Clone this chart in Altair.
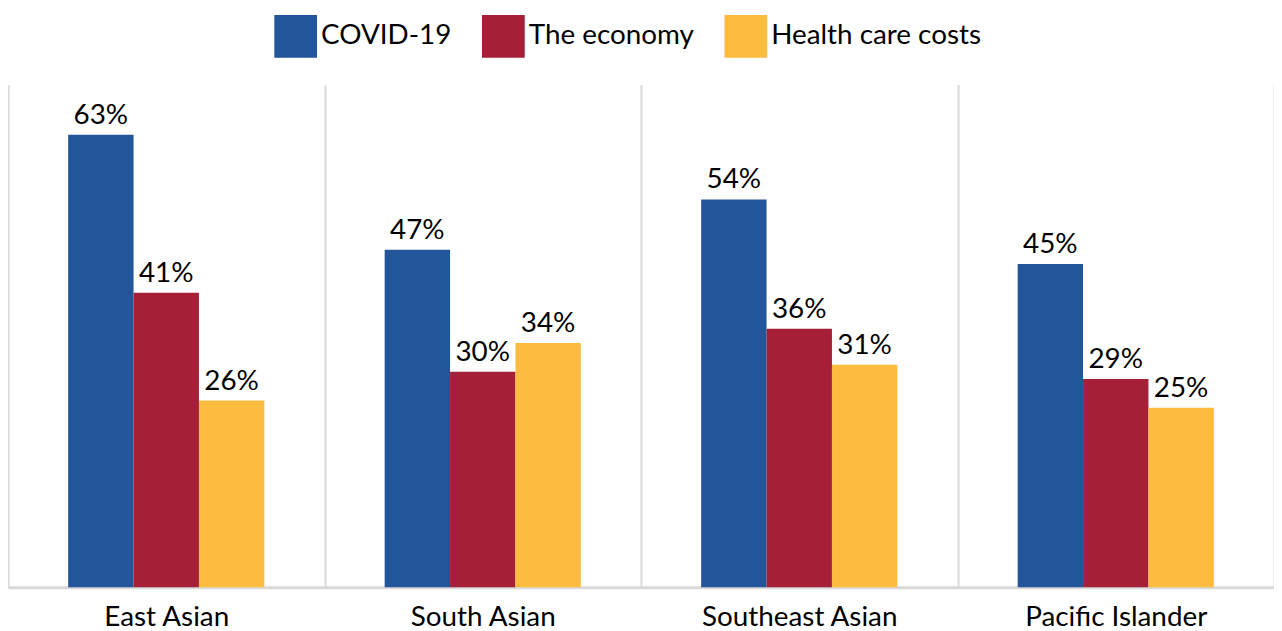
import altair as alt
import pandas as pd

groups = ["East Asian", "South Asian", "Southeast Asian", "Pacific Islander"]
series = ["COVID-19", "The economy", "Health care costs"]
covid = [63, 47, 54, 45]
economy = [41, 30, 36, 29]
health = [26, 34, 31, 25]
colors = ["#22559A", "#A51F36", "#FDBB40"]

rows = []
for s, vals in zip(series, [covid, economy, health]):
    for g, v in zip(groups, vals):
        rows.append({"group": g, "series": s, "value": v / 100, "label": f"{v}%"})
df = pd.DataFrame(rows)

FONT = "Lato"
FS = 28

x = alt.X(
    "group:N",
    sort=groups,
    scale=alt.Scale(paddingInner=0, paddingOuter=0),
    axis=alt.Axis(
        title=None, labelAngle=0, labelFontSize=FS, labelColor="#000000",
        labelFont=FONT, domainColor="#d9d9d9", domainWidth=3, ticks=False,
        grid=True, gridColor="#d9d9d9", gridWidth=2, tickBand="extent",
        labelPadding=16, labelLimit=0,
    ),
)
xoff = alt.XOffset("series:N", sort=series,
                   scale=alt.Scale(paddingOuter=0.92, paddingInner=0))
y = alt.Y("value:Q", scale=alt.Scale(domain=[0, 0.70]), axis=None)

color = alt.Color(
    "series:N", sort=series,
    scale=alt.Scale(domain=series, range=colors),
    legend=alt.Legend(
        title=None, orient="none", direction="horizontal",
        legendX=268, legendY=-70,
        symbolType="square", symbolSize=1849, symbolStrokeWidth=0,
        symbolOpacity=1, labelFontSize=FS, labelFont=FONT, labelLimit=0,
        labelColor="#000000", labelOffset=4, columnPadding=30,
    ),
)

bars = alt.Chart(df).mark_bar(opacity=1).encode(x=x, xOffset=xoff, y=y, color=color)
text = alt.Chart(df).mark_text(
    baseline="alphabetic", dy=-11, fontSize=FS, font=FONT, color="#000000"
).encode(x=x, xOffset=xoff, y=y, text="label:N")

chart = (
    alt.layer(bars, text)
    .properties(width=1274, height=506, padding={"left": 0, "top": 5, "right": 0, "bottom": 0})
    .configure_view(stroke=None)
)

chart.save("out.html", embed_options={"renderer": "svg", "actions": False})
